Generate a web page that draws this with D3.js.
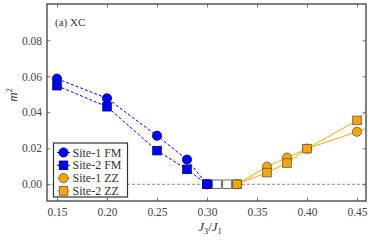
<!DOCTYPE html>
<html><head><meta charset="utf-8">
<script src="https://cdn.jsdelivr.net/npm/d3@7"></script>
<style>body{margin:0;background:#fff}svg{display:block}svg text{font-family:"Liberation Serif","Times New Roman",serif !important}</style>
</head><body><div id="c"></div>
<script>
const xTicks=[0.15,0.20,0.25,0.30,0.35,0.40,0.45];
const yTicks=[0.00,0.02,0.04,0.06,0.08];
const fmX=[0.15,0.20,0.25,0.28,0.30];
const site1FM=[0.0587,0.0478,0.0270,0.0137,0.0];
const site2FM=[0.0548,0.0431,0.0187,0.0083,0.0];
const zzX=[0.33,0.36,0.38,0.40,0.45,0.50];
const site1ZZ=[0.0,0.0098,0.0148,0.0198,0.0292,0.039];
const site2ZZ=[0.0,0.0065,0.0118,0.0198,0.0355,0.063];
const midX=[0.31,0.32];
const midY=[0.0,0.0];
const legendLabels=["Site-1 FM","Site-2 FM","Site-1 ZZ","Site-2 ZZ"];

const W=374,H=240;
const m={l:47,r:8,t:4,b:39};
const svg=d3.select("#c").append("svg").attr("width",W).attr("height",H);
const x=d3.scaleLinear().domain([0.14,0.459]).range([m.l,W-m.r]);
const y=d3.scaleLinear().domain([-0.0093,0.1002]).range([H-m.b,m.t]);
const frame="#555";
svg.append("defs").append("clipPath").attr("id","cp").append("rect")
 .attr("x",m.l).attr("y",m.t).attr("width",W-m.r-m.l).attr("height",H-m.b-m.t);

svg.append("line").attr("x1",m.l).attr("x2",W-m.r).attr("y1",y(0)).attr("y2",y(0))
 .attr("stroke","#666").attr("stroke-width",0.8).attr("stroke-dasharray","3,2");

const g=svg.append("g").attr("clip-path","url(#cp)");
const line=d3.line().x(d=>x(d[0])).y(d=>y(d[1]));
function series(xs,ys,color,dash,shape,fill,edge){
  const pts=xs.map((v,i)=>[v,ys[i]]);
  g.append("path").attr("d",line(pts)).attr("fill","none").attr("stroke",color)
   .attr("stroke-width",1).attr("stroke-dasharray",dash||null);
  pts.forEach(p=>drawMarker(g,x(p[0]),y(p[1]),shape,fill,edge));
}
function drawMarker(sel,cx,cy,shape,fill,edge){
  if(shape==="c") sel.append("circle").attr("cx",cx).attr("cy",cy).attr("r",4.6)
    .attr("fill",fill).attr("stroke",edge).attr("stroke-width",0.8);
  else sel.append("rect").attr("x",cx-4.3).attr("y",cy-4.3).attr("width",8.6).attr("height",8.6)
    .attr("fill",fill).attr("stroke",edge).attr("stroke-width",0.8);
}
series(fmX,site1FM,"#0000ff","3,2","c","#0000ff","#00006a");
series(fmX,site2FM,"#0000ff","3,2","s","#0000ff","#00006a");
series(zzX,site1ZZ,"#ffa500",null,"c","#ffa500","#555");
series(zzX,site2ZZ,"#ffa500",null,"s","#ffa500","#555");
series(midX,midY,"#2ca02c",null,"s","#fff","#444");
drawMarker(g,x(fmX[4]),y(site2FM[4]),"s","#0000ff","#00006a");
drawMarker(g,x(zzX[0]),y(site2ZZ[0]),"s","#ffa500","#555");

svg.append("rect").attr("x",m.l).attr("y",m.t).attr("width",W-m.r-m.l).attr("height",H-m.b-m.t)
 .attr("fill","none").attr("stroke",frame).attr("stroke-width",1.5);

const tl=3.5;
const xa=svg.append("g").attr("transform",`translate(0,${H-m.b})`)
 .call(d3.axisBottom(x).tickValues(xTicks).tickFormat(d3.format(".2f")).tickSizeInner(-tl).tickSizeOuter(0).tickPadding(7));
const xt=svg.append("g").attr("transform",`translate(0,${m.t})`)
 .call(d3.axisTop(x).tickValues(xTicks).tickFormat("").tickSizeInner(-tl).tickSizeOuter(0));
const ya=svg.append("g").attr("transform",`translate(${m.l},0)`)
 .call(d3.axisLeft(y).tickValues(yTicks).tickFormat(d3.format(".2f")).tickSizeInner(-tl).tickSizeOuter(0).tickPadding(5));
const yr=svg.append("g").attr("transform",`translate(${W-m.r},0)`)
 .call(d3.axisRight(y).tickValues(yTicks).tickFormat("").tickSizeInner(-tl).tickSizeOuter(0));
[xa,xt,ya,yr].forEach(a=>{a.select(".domain").remove();a.attr("font-family",null);
 a.selectAll("line").attr("stroke",frame).attr("stroke-width",0.8);
 a.selectAll("text").attr("fill","#444").style("font-size","11.5px");});

svg.append("text").attr("x",55).attr("y",26).text("(a) XC").attr("fill","#333").style("font-size","11px");
svg.append("text").attr("transform","translate(17,95) rotate(-90)").attr("text-anchor","middle")
 .attr("fill","#333").style("font-size","13px").style("font-style","italic")
 .html('m<tspan dy="-5" style="font-size:8px;font-style:normal">2</tspan>');
const xl=svg.append("text").attr("x",x(0.30)+3).attr("y",231).attr("text-anchor","middle").attr("fill","#333").style("font-size","13px");
xl.append("tspan").attr("font-style","italic").text("J");
xl.append("tspan").attr("dy",3).style("font-size","8.5px").text("3");
xl.append("tspan").attr("dy",-3).text("/");
xl.append("tspan").attr("font-style","italic").text("J");
xl.append("tspan").attr("dy",3).style("font-size","8.5px").text("1");

const lg=svg.append("g");
lg.append("rect").attr("x",53.5).attr("y",143).attr("width",74).attr("height",54)
 .attr("fill","#fff").attr("stroke","#333").attr("stroke-width",1.2);
const lcol=["#0000ff","#0000ff","#ffa500","#ffa500"];
const ledge=["#00006a","#00006a","#555","#555"];
const lsh=["c","s","c","s"];
const ldash=["3,2","3,2",null,null];
legendLabels.forEach((t,i)=>{
  const yy=152.5+i*12.8;
  lg.append("line").attr("x1",57).attr("x2",70).attr("y1",yy).attr("y2",yy)
   .attr("stroke",lcol[i]).attr("stroke-width",1).attr("stroke-dasharray",ldash[i]);
  drawMarker(lg,63.5,yy,lsh[i],lcol[i],ledge[i]);
  lg.append("text").attr("x",72.5).attr("y",yy+4).text(t).attr("fill","#333").style("font-size","12px");
});
</script></body></html>
